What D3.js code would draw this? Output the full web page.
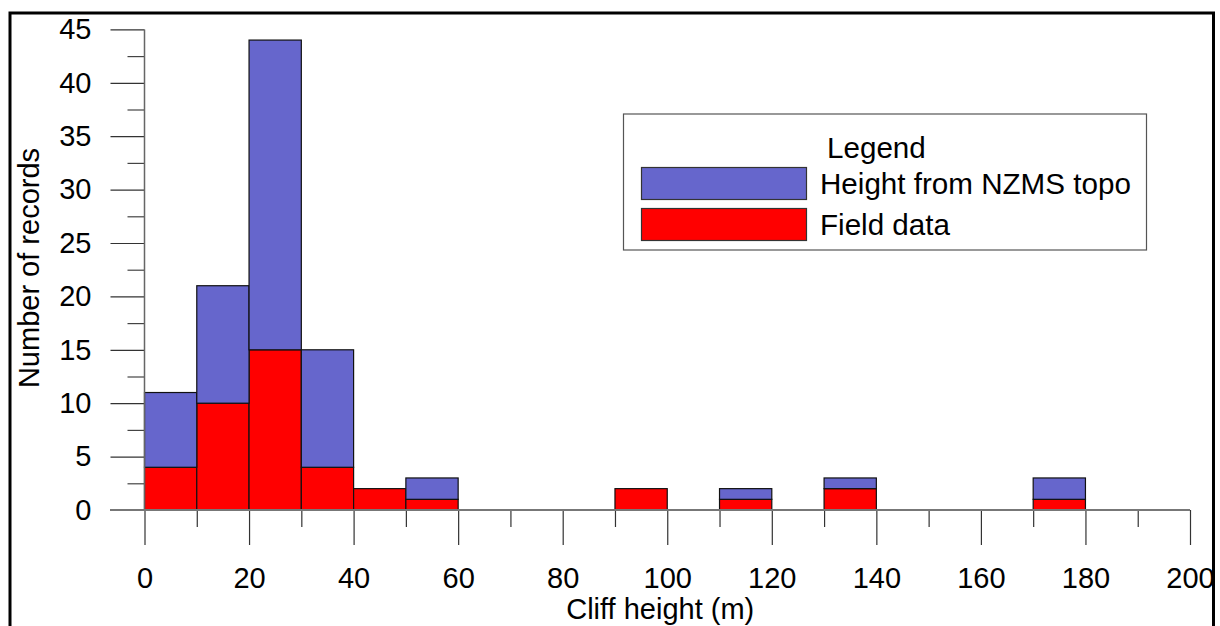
<!DOCTYPE html>
<html>
<head>
<meta charset="utf-8">
<script src="https://cdn.jsdelivr.net/npm/d3@7"></script>
<style>
  html, body { margin: 0; padding: 0; background: #fff; }
  svg { display: block; }
  text { font-family: "Liberation Sans", Arial, sans-serif; fill: #000; }
</style>
</head>
<body>
<svg id="chart" width="1220" height="626"></svg>
<script>
// ---- data ----
const binStarts = [0,10,20,30,40,50,60,70,80,90,100,110,120,130,140,150,160,170,180,190];
const binWidth = 10;
const fieldData = [4,10,15,4,2,1,0,0,0,2,0,1,0,2,0,0,0,1,0,0];
const nzmsData  = [7,11,29,11,0,2,0,0,0,0,0,1,0,1,0,0,0,2,0,0];
const seriesNames = ["Field data", "Height from NZMS topo"];
const yTicks = [0,5,10,15,20,25,30,35,40,45];
const xTicks = [0,20,40,60,80,100,120,140,160,180,200];
const xLabel = "Cliff height (m)";
const yLabel = "Number of records";
const legendTitle = "Legend";

// ---- setup ----
const svg = d3.select("#chart");
const FONT = 29;
const LFONT = 29.6;
const BLUE = "#6666cc", RED = "#ff0000";

const x = d3.scaleLinear().domain([0, 200]).range([144.5, 1190]);
const y = d3.scaleLinear().domain([0, 45]).range([510, 29.4]);

// outer frame
svg.append("rect").attr("x", 10).attr("y", 13).attr("width", 1203.5).attr("height", 700)
  .attr("fill", "none").attr("stroke", "#000").attr("stroke-width", 3);

// stacked data
const rows = binStarts.map((b, i) => ({ bin: b, field: fieldData[i], nzms: nzmsData[i] }));
const stack = d3.stack().keys(["field", "nzms"]);
const layers = stack(rows);
const colors = { field: RED, nzms: BLUE };

// bars
const barG = svg.append("g");
layers.forEach(layer => {
  barG.selectAll(null)
    .data(layer.filter(d => d[1] - d[0] > 0))
    .enter().append("rect")
    .attr("x", d => x(d.data.bin))
    .attr("width", d => x(d.data.bin + binWidth) - x(d.data.bin))
    .attr("y", d => y(d[1]))
    .attr("height", d => y(d[0]) - y(d[1]))
    .attr("fill", colors[layer.key])
    .attr("stroke", "#111")
    .attr("stroke-width", 1.2);
});

// y axis
const minorY = d3.range(2.5, 45, 5);
const yAxisMinor = d3.axisLeft(y).tickValues(minorY).tickSize(17).tickFormat("");
const gyMinor = svg.append("g").attr("transform", "translate(144.5,0)").call(yAxisMinor);
gyMinor.select(".domain").remove();
gyMinor.selectAll("line").attr("stroke", "#444").attr("stroke-width", 1.2);

const yAxis = d3.axisLeft(y).tickValues(yTicks).tickSize(34).tickPadding(19).tickFormat(d3.format("d"));
const gy = svg.append("g").attr("transform", "translate(144.5,0)").call(yAxis);
gy.select(".domain").remove();
gy.selectAll("line").attr("stroke", "#333").attr("stroke-width", 1.2);
gy.selectAll("text").attr("font-size", FONT).attr("font-family", "Liberation Sans, Arial, sans-serif").attr("fill", "#000");

// y axis line
svg.append("line").attr("x1", 144.5).attr("x2", 144.5).attr("y1", y(45)).attr("y2", y(0))
  .attr("stroke", "#666").attr("stroke-width", 1.5);

// x axis
const minorX = d3.range(10, 200, 20);
const xAxisMinor = d3.axisBottom(x).tickValues(minorX).tickSize(17).tickFormat("");
const gxMinor = svg.append("g").attr("transform", "translate(0,510)").call(xAxisMinor);
gxMinor.select(".domain").remove();
gxMinor.selectAll("line").attr("stroke", "#333").attr("stroke-width", 1.2);

const xAxis = d3.axisBottom(x).tickValues(xTicks).tickSize(35).tickPadding(22).tickFormat(d3.format("d"));
const gx = svg.append("g").attr("transform", "translate(0,510)").call(xAxis);
gx.select(".domain").remove();
gx.selectAll("line").attr("stroke", "#333").attr("stroke-width", 1.2);
gx.selectAll("text").attr("font-size", FONT).attr("font-family", "Liberation Sans, Arial, sans-serif").attr("fill", "#000");

// x baseline
svg.append("line").attr("x1", 110).attr("x2", x(200)).attr("y1", y(0)).attr("y2", y(0))
  .attr("stroke", "#777").attr("stroke-width", 2);

// axis titles
svg.append("text").attr("x", (x(0) + x(200)) / 2 - 7).attr("y", 619)
  .attr("text-anchor", "middle").attr("font-size", FONT).text(xLabel);
svg.append("text").attr("transform", "translate(39,268) rotate(-90)")
  .attr("text-anchor", "middle").attr("font-size", FONT).text(yLabel);

// legend
const lg = svg.append("g");
lg.append("rect").attr("x", 623.5).attr("y", 114).attr("width", 523).attr("height", 136)
  .attr("fill", "#fff").attr("stroke", "#555").attr("stroke-width", 1.2);
lg.append("text").attr("x", 827).attr("y", 157.5).attr("font-size", LFONT).text(legendTitle);
const legendItems = [
  { name: seriesNames[1], color: BLUE },
  { name: seriesNames[0], color: RED }
];
legendItems.forEach((it, i) => {
  const top = 167.5 + i * 41;
  lg.append("rect").attr("x", 641.5).attr("y", top).attr("width", 165).attr("height", 32)
    .attr("fill", it.color).attr("stroke", "#333").attr("stroke-width", 1.2);
  lg.append("text").attr("x", 820).attr("y", top + 26).attr("font-size", LFONT).text(it.name);
});
</script>
</body>
</html>
